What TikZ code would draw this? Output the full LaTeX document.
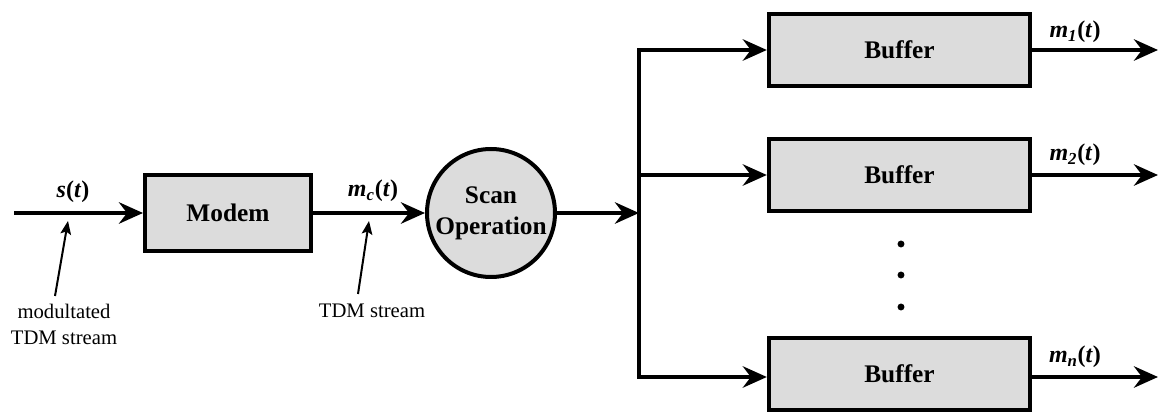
\documentclass[tikz,border=0pt]{standalone}
\usepackage{fontspec}
\setmainfont{Liberation Serif}
\usetikzlibrary{arrows.meta}
\definecolor{boxgray}{RGB}{220,220,220}
% signal label: bold italic letter, subscript, (t)
\newcommand{\sigl}[2]{\textbf{\textit{#1}}\textsubscript{\textbf{\textit{#2}}}\textbf{(\textit{t})}}

\begin{document}
\begin{tikzpicture}[x=0.75pt,y=0.75pt,yscale=-1,xscale=1,
  blk/.style={draw,line width=3pt,fill=boxgray,inner sep=0pt,font=\fontsize{19}{23}\selectfont\bfseries},
  sig/.style={line width=3pt,-{Stealth[length=18pt,width=16pt,inset=6pt]}},
  note/.style={line width=1.5pt,-{Stealth[length=10pt,width=8pt,inset=2pt]}},
  lbl/.style={inner sep=0pt,font=\fontsize{18}{22}\selectfont},
  small/.style={inner sep=0pt,align=center,font=\fontsize{15.5}{19.5}\selectfont}]
\useasboundingbox (0,0) rectangle (1161,413);

%Blocks
\node[blk,minimum width=124.5pt,minimum height=57pt] (modem) at (228,213) {Modem};
\node[blk,circle,minimum size=96pt,align=center] (scan) at (491,213) {Scan\\Operation};
\node[blk,minimum width=196pt,minimum height=54pt] (buf1) at (899.5,50) {Buffer};
\node[blk,minimum width=196pt,minimum height=54pt] (buf2) at (899.5,175) {Buffer};
\node[blk,minimum width=196pt,minimum height=54pt] (bufn) at (899.5,374) {Buffer};

%Free ends
\coordinate (in) at (14,213);
\coordinate (split) at (639,213);
\coordinate (out1) at (1158,50);
\coordinate (out2) at (1158,175);
\coordinate (outn) at (1158,377);

%Signal lines
\draw[sig] (in) -- (modem);
\draw[sig] (modem) -- (scan);
\draw[sig] (scan) -- (split);
\draw[sig] (split) |- (buf1);
\draw[sig] (split) |- (bufn.west |- outn);
\draw[sig] (split |- buf2) -- (buf2);
\draw[sig] (buf1) -- (out1);
\draw[sig] (buf2) -- (out2);
\draw[sig] (bufn.east |- outn) -- (outn);

%Signal labels
\node[lbl] (s) at (73,192) {\textbf{\textit{s}}\textbf{(\textit{t})}};
\node[lbl] (mc) at (373,191) {\sigl{m}{c}};
\node[lbl] (m1) at (1075,32) {\sigl{m}{1}};
\node[lbl] (m2) at (1075,155) {\sigl{m}{2}};
\node[lbl] (mn) at (1075,357) {\sigl{m}{n}};

%Dots
\foreach \y in {244,275,307}
  \fill (901,\y) circle (2.6pt);

%Notes
\node[small] (modnote) at (64,324) {modultated\\TDM stream};
\node[small] (tdmnote) at (372,311) {TDM stream};
\coordinate (modtip) at (68,221);
\coordinate (modtail) at (55,296);
\coordinate (tdmtip) at (369,221);
\coordinate (tdmtail) at (358,294);
\draw[note] (modtail) -- (modtip);
\draw[note] (tdmtail) -- (tdmtip);

\end{tikzpicture}
\end{document}
